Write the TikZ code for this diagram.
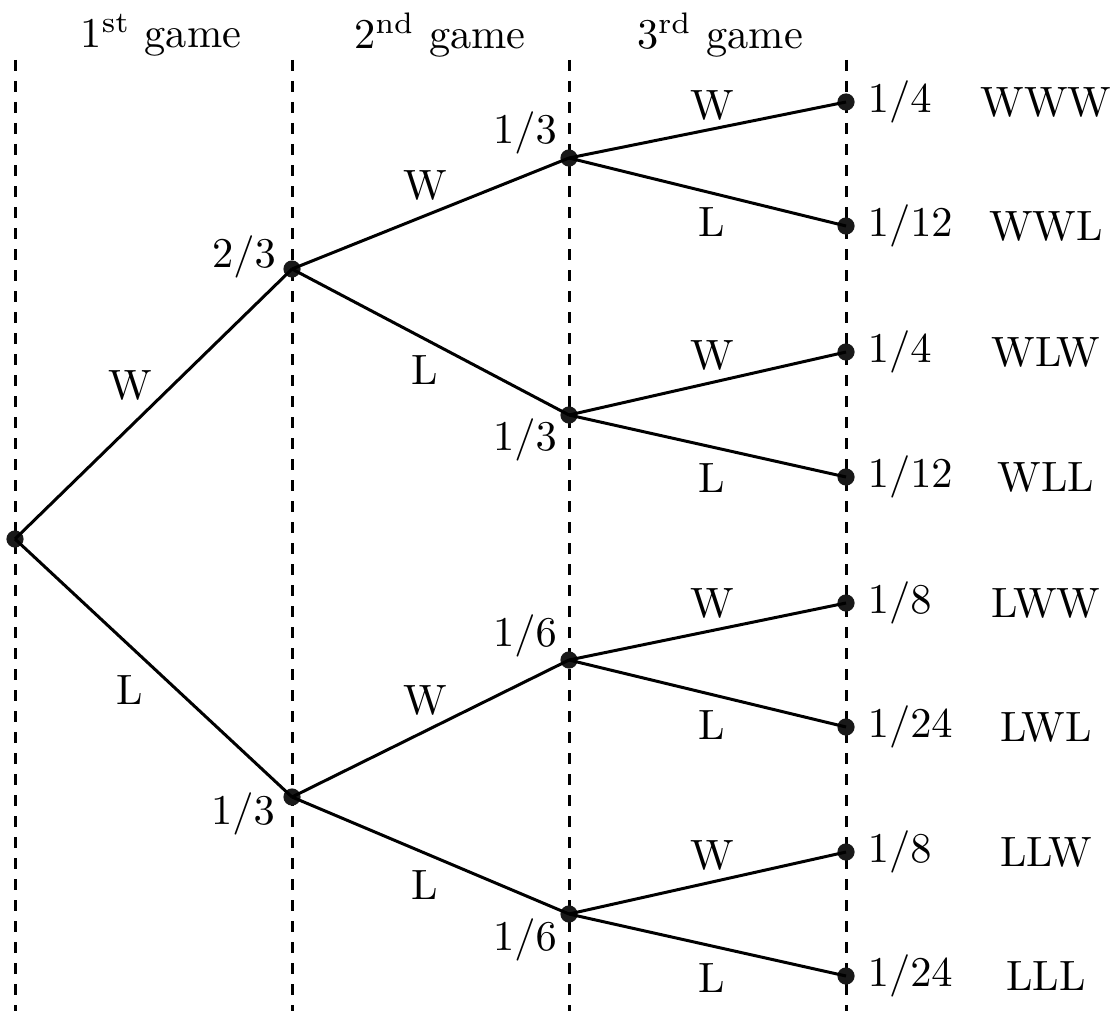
\documentclass[tikz,border=0pt]{standalone}
\begin{document}
\begin{tikzpicture}[x=0.5pt,y=-0.5pt,
  every node/.style={font=\fontsize{10}{12}\selectfont, inner sep=0pt},
  txt/.style={scale=2.12},
  guide/.style={line width=1.5pt, dash pattern=on 5.3pt off 5.2pt},
  edge/.style={line width=1.5pt},
  dot/.style={circle, fill=black!90, minimum size=8.6pt, inner sep=0pt},
  prob/.style={txt, anchor=west}]
\useasboundingbox (0,0) rectangle (1113,1011);
% guides
\draw[guide] (15,60) -- (15,1011);
\draw[guide] (292,60) -- (292,1011);
\draw[guide] (569,60) -- (569,1011);
\draw[guide] (846,60) -- (846,1011);
% headers
\node[txt] (h1) at (161,35) {1\textsuperscript{st} game};
\node[txt] (h2) at (440,35) {2\textsuperscript{nd} game};
\node[txt] (h3) at (720,35) {3\textsuperscript{rd} game};
% nodes
\node[dot] (r) at (15,539) {};
\node[dot] (a) at (292,269) {};
\node[dot] (b) at (292,797) {};
\node[dot] (c) at (569,158) {};
\node[dot] (d) at (569,415) {};
\node[dot] (e) at (569,660) {};
\node[dot] (f) at (569,914) {};
\node[dot] (l1) at (846,102) {};
\node[dot] (l2) at (846,226) {};
\node[dot] (l3) at (846,352) {};
\node[dot] (l4) at (846,477) {};
\node[dot] (l5) at (846,603) {};
\node[dot] (l6) at (846,727) {};
\node[dot] (l7) at (846,852) {};
\node[dot] (l8) at (846,976) {};
% edges
\draw[edge] (r.center) -- (a.center);
\draw[edge] (r.center) -- (b.center);
\draw[edge] (a.center) -- (c.center);
\draw[edge] (a.center) -- (d.center);
\draw[edge] (b.center) -- (e.center);
\draw[edge] (b.center) -- (f.center);
\draw[edge] (c.center) -- (l1.center);
\draw[edge] (c.center) -- (l2.center);
\draw[edge] (d.center) -- (l3.center);
\draw[edge] (d.center) -- (l4.center);
\draw[edge] (e.center) -- (l5.center);
\draw[edge] (e.center) -- (l6.center);
\draw[edge] (f.center) -- (l7.center);
\draw[edge] (f.center) -- (l8.center);
% node probabilities
\node[txt] (pa) at (244,257) {$2/3$};
\node[txt] (pb) at (243,814) {$1/3$};
\node[txt] (pc) at (525,133) {$1/3$};
\node[txt] (pd) at (525,440) {$1/3$};
\node[txt] (pe) at (525,636) {$1/6$};
\node[txt] (pf) at (525,940) {$1/6$};
% edge labels
\node[txt] (wr) at (130,385) {W};
\node[txt] (lr) at (130,690) {L};
\node[txt] (wa) at (425,185) {W};
\node[txt] (la) at (425,370) {L};
\node[txt] (wb) at (425,700) {W};
\node[txt] (lb) at (425,885) {L};
\node[txt] (w1) at (712,105) {W};
\node[txt] (x1) at (712,222) {L};
\node[txt] (w2) at (712,355) {W};
\node[txt] (x2) at (712,478) {L};
\node[txt] (w3) at (712,603) {W};
\node[txt] (x3) at (712,725) {L};
\node[txt] (w4) at (712,855) {W};
\node[txt] (x4) at (712,978) {L};
% leaf probabilities
\node[prob] (q1) at (867,102) {$1/4$};
\node[prob] (q2) at (867,226) {$1/12$};
\node[prob] (q3) at (867,352) {$1/4$};
\node[prob] (q4) at (867,477) {$1/12$};
\node[prob] (q5) at (867,603) {$1/8$};
\node[prob] (q6) at (867,727) {$1/24$};
\node[prob] (q7) at (867,852) {$1/8$};
\node[prob] (q8) at (867,976) {$1/24$};
% outcomes
\node[txt] (o1) at (1046,102) {WWW};
\node[txt] (o2) at (1046,226) {WWL};
\node[txt] (o3) at (1046,352) {WLW};
\node[txt] (o4) at (1046,477) {WLL};
\node[txt] (o5) at (1046,603) {LWW};
\node[txt] (o6) at (1046,727) {LWL};
\node[txt] (o7) at (1046,852) {LLW};
\node[txt] (o8) at (1046,976) {LLL};
\end{tikzpicture}
\end{document}
